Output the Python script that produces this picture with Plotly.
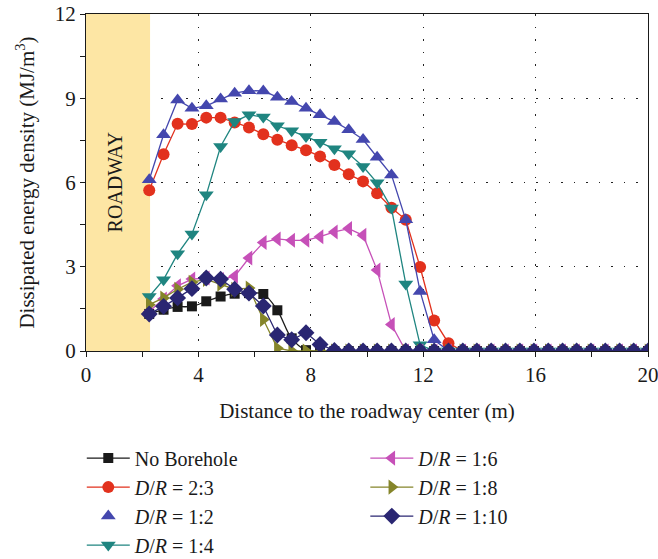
import plotly.graph_objects as go

# Distance to roadway center (m)
distance = [2.25, 2.76, 3.26, 3.77, 4.28, 4.79, 5.29, 5.80, 6.31, 6.81, 7.32, 7.83,
            8.33, 8.84, 9.35, 9.86, 10.36, 10.87, 11.38, 11.89, 12.39, 12.90, 13.41, 13.91,
            14.42, 14.93, 15.44, 15.94, 16.45, 16.96, 17.46, 17.97, 18.48, 18.99, 19.49, 20.00]

no_borehole = [1.32, 1.47, 1.57, 1.59, 1.77, 1.94, 2.04, 2.06, 2.03, 1.45, 0.45, 0.03] + [0] * 24
dr_2_3 = [5.72, 7.01, 8.09, 8.08, 8.31, 8.31, 8.14, 7.96, 7.72, 7.52, 7.33, 7.15, 6.93, 6.62,
          6.29, 6.04, 5.62, 5.10, 4.67, 2.99, 1.09, 0.28] + [0] * 14
dr_1_2 = [6.10, 7.70, 8.94, 8.64, 8.73, 8.97, 9.18, 9.27, 9.26, 9.04, 8.88, 8.64, 8.41, 8.17,
          7.88, 7.53, 6.90, 6.27, 4.67, 2.12, 0.40] + [0] * 15
dr_1_4 = [1.94, 2.54, 3.46, 4.17, 5.56, 7.28, 8.17, 8.41, 8.33, 8.02, 7.84, 7.64, 7.43, 7.20,
          7.02, 6.57, 5.99, 5.09, 2.39, 0.22] + [0] * 16
dr_1_6 = [1.40, 1.85, 2.32, 2.56, 2.60, 2.55, 2.66, 3.31, 3.86, 3.99, 3.94, 3.94, 4.07, 4.24,
          4.36, 4.12, 2.88, 0.94] + [0] * 18
dr_1_8 = [1.65, 1.89, 2.20, 2.45, 2.55, 2.38, 2.20, 2.24, 1.12, 0.10] + [0] * 26
dr_1_10 = [1.32, 1.59, 1.89, 2.22, 2.60, 2.56, 2.20, 2.06, 1.60, 0.57, 0.40, 0.65, 0.23, 0.02] + [0] * 22

roadway_edge = 2.28

FONT = "Liberation Serif"

series = [
    ("No Borehole", no_borehole, "#1a1a1a", "square", 10, "legend", True),
    ("<i>D</i>/<i>R</i> = 2:3", dr_2_3, "#E2311D", "circle", 12, "legend", True),
    ("<i>D</i>/<i>R</i> = 1:2", dr_1_2, "#4447AE", "triangle-up", 13, "legend", False),
    ("<i>D</i>/<i>R</i> = 1:4", dr_1_4, "#1F8580", "triangle-down", 13, "legend", True),
    ("<i>D</i>/<i>R</i> = 1:6", dr_1_6, "#C650B8", "triangle-left", 13, "legend2", True),
    ("<i>D</i>/<i>R</i> = 1:8", dr_1_8, "#85852A", "triangle-right", 13, "legend2", True),
    ("<i>D</i>/<i>R</i> = 1:10", dr_1_10, "#2A2672", "diamond", 13, "legend2", True),
]

fig = go.Figure()
for name, vals, color, sym, size, leg, line_in_legend in series:
    shape = "spline" if name == "No Borehole" else "linear"
    if line_in_legend:
        fig.add_trace(go.Scatter(
            x=distance, y=vals, name=name, mode="lines+markers", legend=leg,
            line=dict(color=color, width=1.3, shape=shape),
            marker=dict(symbol=sym, size=size, color=color, line=dict(width=0)),
        ))
    else:
        fig.add_trace(go.Scatter(
            x=distance, y=vals, name=name, mode="lines+markers", showlegend=False,
            line=dict(color=color, width=1.3, shape=shape),
            marker=dict(symbol=sym, size=size, color=color, line=dict(width=0)),
        ))
        fig.add_trace(go.Scatter(
            x=[-10], y=[-10], name=name, mode="markers", legend=leg,
            marker=dict(symbol=sym, size=size, color=color, line=dict(width=0)),
        ))

fig.add_shape(type="rect", xref="x", yref="y", x0=0, x1=roadway_edge, y0=0, y1=12,
              fillcolor="#FDE6A4", line=dict(width=0), layer="between")

fig.add_annotation(x=1.03, y=6.0, xref="x", yref="y", text="ROADWAY", showarrow=False,
                   textangle=-90, font=dict(family=FONT, size=20, color="#1a1a1a"))

axis_common = dict(
    showline=True, linecolor="#1a1a1a", linewidth=1.3, mirror=True,
    ticks="outside", ticklen=5, tickwidth=1.2, tickcolor="#1a1a1a",
    tickfont=dict(family=FONT, size=21, color="#1a1a1a"),
    showgrid=True, gridcolor="#222222", gridwidth=1.2, griddash="1.5px,11px",
    zeroline=False, ticklabeloverflow="allow",
)

fig.update_xaxes(
    range=[0, 20], dtick=4, tick0=0,
    minor=dict(dtick=2, ticks="outside", ticklen=5, tickwidth=1.2, tickcolor="#1a1a1a", showgrid=False),
    title=dict(text="Distance to the roadway center (m)", font=dict(family=FONT, size=21, color="#1a1a1a"), standoff=16),
    **axis_common,
)
fig.update_yaxes(
    range=[0, 12], dtick=3, tick0=0,
    minor=dict(dtick=1.5, ticks="outside", ticklen=5, tickwidth=1.2, tickcolor="#1a1a1a", showgrid=False),
    title=dict(text="Dissipated energy density (MJ/m<sup>3</sup>)", font=dict(family=FONT, size=21, color="#1a1a1a"), standoff=14),
    **axis_common,
)

legend_common = dict(
    font=dict(family=FONT, size=20, color="#1a1a1a"),
    bgcolor="rgba(0,0,0,0)", borderwidth=0,
    yanchor="top", xanchor="left", tracegroupgap=0, itemwidth=43,
)

fig.update_layout(
    width=658, height=559,
    margin=dict(l=86, r=10, t=14, b=208, autoexpand=False),
    paper_bgcolor="white", plot_bgcolor="white",
    legend=dict(x=-0.0075, y=-0.26, **legend_common),
    legend2=dict(x=0.497, y=-0.26, **legend_common),
)

fig.write_html("out.html", config={"displayModeBar": False},
               post_script="document.body.style.margin='0';")
